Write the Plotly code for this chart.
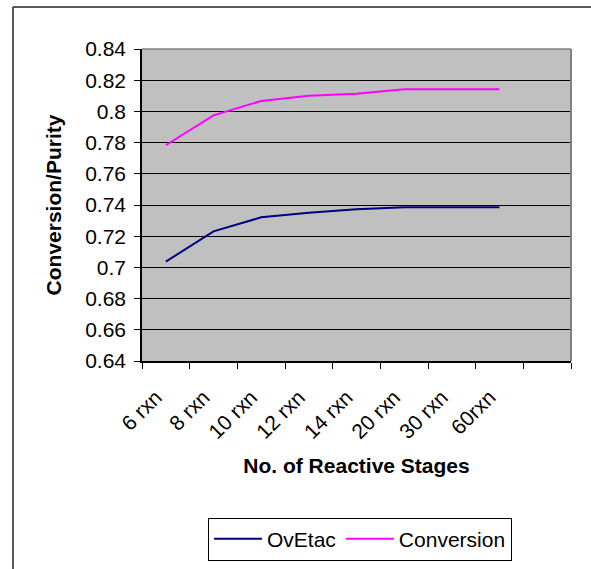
import plotly.graph_objects as go

# Reactive-stage configurations (last slot is an empty spare category)
stages = ["6 rxn", "8 rxn", "10 rxn", "12 rxn", "14 rxn", "20 rxn", "30 rxn", "60rxn"]
axis_categories = stages + [" "]

ovetac = [0.7037, 0.7231, 0.7321, 0.7350, 0.7372, 0.7385, 0.7385, 0.7385]
conversion = [0.7783, 0.7975, 0.8067, 0.8101, 0.8113, 0.8142, 0.8142, 0.8142]

y_ticks = [0.64, 0.66, 0.68, 0.70, 0.72, 0.74, 0.76, 0.78, 0.80, 0.82, 0.84]
y_tick_text = ["0.64", "0.66", "0.68", "0.7", "0.72", "0.74", "0.76", "0.78", "0.8", "0.82", "0.84"]

W, H = 591, 569
L, R, T, B = 142, 20, 49, 208
pw, ph = W - L - R, H - T - B

FONT = "Liberation Sans, Arial, sans-serif"

fig = go.Figure()
fig.add_trace(go.Scatter(x=stages, y=ovetac, name="OvEtac", mode="lines",
                         line=dict(color="#000080", width=2)))
fig.add_trace(go.Scatter(x=stages, y=conversion, name="Conversion", mode="lines",
                         line=dict(color="#FF00FF", width=2)))

def px_x(v):
    return (v - L) / pw

def px_y(v):
    return 1 - (v - T) / ph

# Outer chart frame (left and top edges)
frame = dict(color="#222222", width=1.5)
fig.add_shape(type="line", xref="paper", yref="paper",
              x0=px_x(13), x1=px_x(13), y0=px_y(7), y1=px_y(600), line=frame)
fig.add_shape(type="line", xref="paper", yref="paper",
              x0=px_x(13), x1=px_x(620), y0=px_y(7), y1=px_y(7), line=frame)
# Plot-area border on the top and right
fig.add_shape(type="line", xref="paper", yref="paper",
              x0=0, x1=1, y0=1, y1=1, line=dict(color="#808080", width=1.5))
fig.add_shape(type="line", xref="paper", yref="paper",
              x0=1, x1=1, y0=0, y1=1, line=dict(color="#808080", width=2))

fig.update_layout(
    width=W, height=H,
    margin=dict(l=L, r=R, t=T, b=B, autoexpand=False),
    paper_bgcolor="white",
    plot_bgcolor="#C0C0C0",
    font=dict(family=FONT, size=21, color="black"),
    showlegend=True,
    legend=dict(orientation="h", x=px_x(360), y=px_y(539),
                xanchor="center", yanchor="middle",
                bordercolor="black", borderwidth=1, bgcolor="white",
                font=dict(family=FONT, size=21), itemwidth=48,
                tracegroupgap=0),
)

fig.update_xaxes(
    type="category",
    categoryorder="array", categoryarray=axis_categories,
    range=[-0.5, len(axis_categories) - 0.5],
    tickson="boundaries", ticks="outside", ticklen=6, tickcolor="black",
    tickangle=-45, tickfont=dict(family=FONT, size=21),
    ticklabelstandoff=14, ticklabelshift=-10,
    showline=True, linecolor="black", linewidth=1.5,
    showgrid=False, zeroline=False, automargin=False,
    title=dict(text="<b>No. of Reactive Stages</b>",
               font=dict(family=FONT, size=21), standoff=16),
)

fig.update_yaxes(
    range=[0.64, 0.84], tickvals=y_ticks, ticktext=y_tick_text,
    ticks="outside", ticklen=6, tickcolor="black",
    tickfont=dict(family=FONT, size=21), ticklabelstandoff=4,
    showline=True, linecolor="black", linewidth=1.5,
    showgrid=True, gridcolor="black", gridwidth=1,
    zeroline=False, automargin=False,
    title=dict(text="<b>Conversion/Purity</b>",
               font=dict(family=FONT, size=21), standoff=18),
)

fig.write_html("out.html")
